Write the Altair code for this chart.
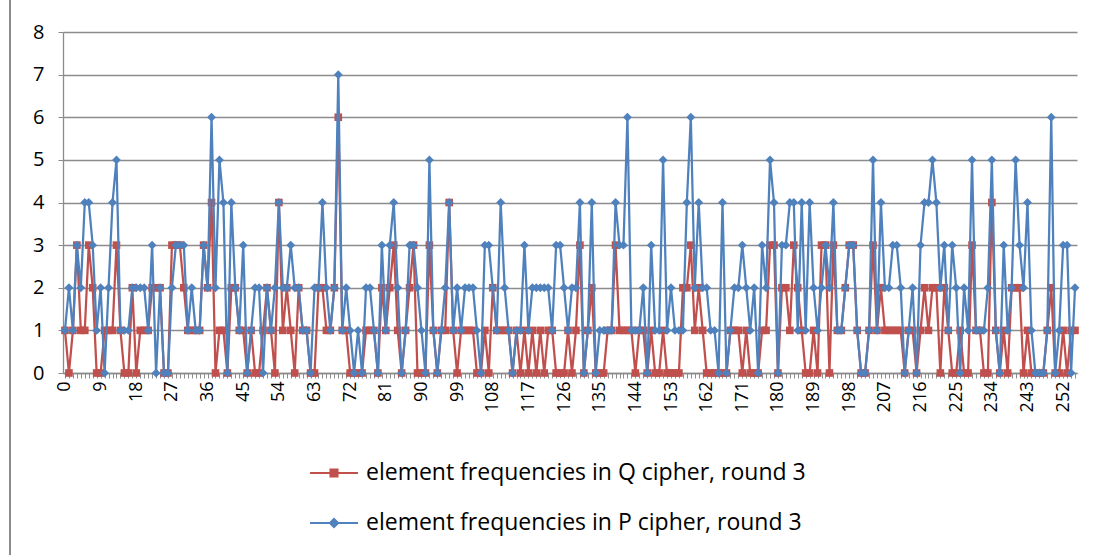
import altair as alt
import pandas as pd

Q_NAME = "element frequencies in Q cipher, round 3"
P_NAME = "element frequencies in P cipher, round 3"
RED = "#C0504D"
BLUE = "#4F81BD"
GRID = "#8C8C8C"
FONT = "Open Sans"

elements = list(range(256))

q_freq = [
    1, 0, 1, 3, 1, 1, 3, 2, 0, 0,
    1, 1, 1, 3, 1, 0, 0, 2, 0, 1,
    1, 1, 2, 2, 2, 0, 0, 3, 3, 3,
    2, 1, 1, 1, 1, 3, 2, 4, 0, 1,
    1, 0, 2, 2, 1, 1, 0, 1, 0, 0,
    1, 2, 1, 0, 4, 1, 2, 1, 0, 2,
    1, 1, 0, 0, 2, 2, 1, 1, 2, 6,
    1, 1, 0, 0, 0, 0, 1, 1, 1, 0,
    2, 1, 2, 3, 1, 0, 1, 2, 3, 0,
    0, 0, 3, 1, 0, 1, 1, 4, 1, 0,
    1, 1, 1, 1, 0, 0, 1, 0, 2, 1,
    1, 1, 1, 0, 1, 0, 1, 0, 1, 0,
    1, 0, 1, 1, 0, 0, 0, 1, 0, 1,
    3, 0, 1, 2, 0, 0, 0, 1, 1, 3,
    1, 1, 1, 1, 0, 1, 1, 0, 1, 0,
    0, 1, 0, 0, 0, 0, 2, 2, 3, 1,
    2, 1, 0, 0, 0, 0, 0, 0, 1, 1,
    1, 0, 1, 0, 0, 0, 1, 1, 3, 3,
    0, 2, 2, 1, 3, 2, 1, 0, 0, 1,
    0, 3, 3, 0, 3, 1, 1, 2, 3, 3,
    1, 0, 0, 1, 3, 1, 2, 1, 1, 1,
    1, 1, 0, 1, 1, 0, 1, 2, 1, 2,
    2, 0, 2, 1, 0, 0, 1, 0, 0, 3,
    1, 1, 0, 0, 4, 1, 0, 1, 0, 2,
    2, 2, 0, 1, 0, 0, 0, 0, 1, 2,
    0, 0, 1, 0, 1, 1,
]

p_freq = [
    1, 2, 1, 3, 2, 4, 4, 3, 1, 2,
    0, 2, 4, 5, 1, 1, 1, 2, 2, 2,
    2, 1, 3, 0, 2, 0, 0, 2, 3, 3,
    3, 1, 2, 1, 1, 3, 2, 6, 2, 5,
    4, 0, 4, 2, 1, 3, 0, 1, 2, 2,
    0, 2, 1, 2, 4, 2, 2, 3, 2, 2,
    1, 1, 0, 2, 2, 4, 2, 1, 2, 7,
    1, 2, 1, 0, 1, 0, 2, 2, 1, 0,
    3, 1, 3, 4, 2, 0, 1, 3, 3, 2,
    1, 0, 5, 1, 0, 1, 2, 4, 1, 2,
    1, 2, 2, 2, 1, 0, 3, 3, 2, 1,
    4, 2, 1, 0, 1, 1, 3, 1, 2, 2,
    2, 2, 2, 1, 3, 3, 2, 1, 2, 2,
    4, 0, 1, 4, 0, 1, 1, 1, 1, 4,
    3, 3, 6, 1, 1, 1, 2, 0, 3, 1,
    1, 5, 1, 2, 1, 1, 1, 4, 6, 2,
    4, 2, 2, 1, 1, 0, 4, 0, 1, 2,
    2, 3, 2, 1, 2, 0, 3, 2, 5, 4,
    0, 3, 3, 4, 4, 1, 4, 1, 4, 2,
    1, 2, 3, 2, 4, 1, 1, 2, 3, 3,
    1, 0, 0, 1, 5, 1, 4, 2, 2, 3,
    3, 2, 0, 1, 2, 0, 3, 4, 4, 5,
    4, 2, 3, 1, 3, 2, 0, 2, 1, 5,
    1, 1, 1, 2, 5, 1, 0, 3, 1, 2,
    5, 3, 2, 4, 1, 0, 0, 0, 1, 6,
    0, 1, 3, 3, 0, 2,
]

y_ticks = [0, 1, 2, 3, 4, 5, 6, 7, 8]
label_step = 9

df = pd.concat([
    pd.DataFrame({"element": elements, "freq": q_freq, "series": Q_NAME}),
    pd.DataFrame({"element": elements, "freq": p_freq, "series": P_NAME}),
], ignore_index=True)

x_enc = alt.X(
    "element:O",
    scale=alt.Scale(type="point", padding=0.5),
    axis=alt.Axis(
        title=None, labelAngle=-90,
        labelExpr=f"datum.value % {label_step} === 0 ? datum.label : ''",
        labelOverlap=False, tickSize=5, tickColor=GRID, tickWidth=1,
        domainColor=GRID, domainWidth=1.3, labelFontSize=18, labelFont=FONT,
        labelColor="black", labelPadding=3, labelBaseline="middle", labelAlign="right",
    ),
)
y_enc = alt.Y(
    "freq:Q",
    scale=alt.Scale(domain=[0, 8], nice=False, zero=True),
    axis=alt.Axis(
        title=None, values=y_ticks, grid=True, gridColor=GRID, gridWidth=1.3,
        tickSize=5, tickColor=GRID, domainColor=GRID, domainWidth=1.3,
        labelFontSize=20, labelFont=FONT, labelColor="black", labelPadding=14,
    ),
)

base = alt.Chart(df).encode(x=x_enc, y=y_enc)
q_base = base.transform_filter(alt.datum.series == Q_NAME)
p_base = base.transform_filter(alt.datum.series == P_NAME)

q_line = q_base.mark_line(color=RED, strokeWidth=2.25)
q_pts = q_base.mark_point(shape="square", filled=True, size=58, color=RED, opacity=1)
p_line = p_base.mark_line(color=BLUE, strokeWidth=2.25)
p_pts = p_base.mark_point(shape="diamond", filled=True, size=78, color=BLUE, opacity=1)

sq_path = "M-1,-0.045H1V0.045H-1Z M-0.19,-0.19H0.19V0.19H-0.19Z"
di_path = "M-1,-0.045H1V0.045H-1Z M0,-0.23L0.23,0L0,0.23L-0.23,0Z"
legend_def = alt.Legend(
    title=None, orient="none", legendX=247, legendY=417,
    symbolSize=2304, symbolStrokeWidth=0, labelFontSize=23, labelFont=FONT,
    labelColor="black", rowPadding=14, padding=0, labelOffset=8, labelLimit=0,
    symbolOpacity=1,
)
legend_layer = alt.Chart(df).transform_filter("false").mark_point(filled=True, opacity=1).encode(
    x=x_enc, y=y_enc,
    color=alt.Color("series:N", scale=alt.Scale(domain=[Q_NAME, P_NAME], range=[RED, BLUE]), legend=legend_def),
    shape=alt.Shape("series:N", scale=alt.Scale(domain=[Q_NAME, P_NAME], range=[sq_path, di_path]), legend=legend_def),
)

border = alt.Chart(df).mark_rule(color=GRID, strokeWidth=1.3).encode(
    x=alt.value(-53), y=alt.value(-32), y2=alt.value(523)
)

chart = alt.layer(q_line, q_pts, p_line, p_pts, legend_layer, border).properties(
    width=1014, height=341,
    autosize=alt.AutoSizeParams(type="none"),
    padding={"left": 63, "top": 32, "right": 27, "bottom": 182},
    background="white",
).configure_view(stroke=None)

chart.save("out.html", embed_options={"renderer": "svg", "actions": False})
